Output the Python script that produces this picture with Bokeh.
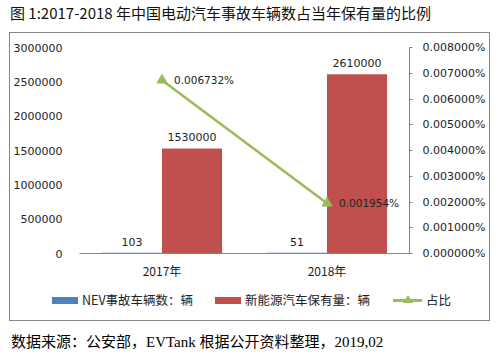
from bokeh.plotting import figure
from bokeh.layouts import column, row
from bokeh.models import (ColumnDataSource, FactorRange, Range1d, LinearAxis, SingleIntervalTicker,
                          NumeralTickFormatter, PrintfTickFormatter, LabelSet, Div, Spacer)
from bokeh.transform import dodge
from bokeh.core.properties import value
from bokeh.embed import file_html
from bokeh.resources import INLINE

years = ["2017年", "2018年"]
accidents = [103, 51]
fleet = [1530000, 2610000]
ratio_pct = [0.006732, 0.001954]
ratio_labels = ["0.006732%", "0.001954%"]
title_text = "图 1:2017-2018 年中国电动汽车事故车辆数占当年保有量的比例"
source_text = "数据来源：公安部，EVTank 根据公开资料整理，2019,02"
legend_labels = ["NEV事故车辆数：辆", "新能源汽车保有量：辆", "占比"]

BLUE = "#4F81BD"
RED = "#C0504D"
GREEN = "#9BBB59"
GRAY = "#868686"
CJK = "Noto Sans CJK SC"
BORDER = "1px solid " + GRAY

src = ColumnDataSource(dict(
    year=years, acc=accidents, fleet=fleet, ratio=ratio_pct,
    acc_lbl=[str(v) for v in accidents], fleet_lbl=[str(v) for v in fleet], ratio_lbl=ratio_labels,
))

# ---------------- main chart ----------------
p = figure(width=481, height=249, x_range=FactorRange(*years, range_padding=0),
           y_range=Range1d(0, 3000000), output_backend="svg", toolbar_location=None,
           min_border_left=68, min_border_right=82, min_border_top=14, min_border_bottom=29)
p.outline_line_color = None
p.xgrid.visible = False
p.ygrid.visible = False
p.background_fill_color = "white"
p.styles = {"border-top": BORDER, "border-left": BORDER, "border-right": BORDER, "box-sizing": "border-box"}
p.extra_y_ranges = {"r": Range1d(0, 0.008)}

p.vbar(x=dodge("year", -0.182, range=p.x_range), top="acc", width=0.364, source=src,
       fill_color=BLUE, line_color=BLUE, line_width=1.5)
p.vbar(x=dodge("year", 0.182, range=p.x_range), top="fleet", width=0.364, source=src,
       fill_color=RED, line_color=None)
p.line(x="year", y="ratio", source=src, y_range_name="r", line_color=GREEN, line_width=2.5)
p.scatter(x="year", y="ratio", source=src, y_range_name="r", marker="triangle", size=10,
          fill_color=GREEN, line_color=GREEN)

p.add_layout(LabelSet(x=dodge("year", -0.182, range=p.x_range), y="acc", text="acc_lbl", source=src,
                      text_align="center", text_baseline="bottom", y_offset=7,
                      text_font=value("DejaVu Sans"), text_font_size="11px", text_color="#222222"))
p.add_layout(LabelSet(x=dodge("year", 0.182, range=p.x_range), y="fleet", text="fleet_lbl", source=src,
                      text_align="center", text_baseline="bottom", y_offset=7,
                      text_font=value("DejaVu Sans"), text_font_size="11px", text_color="#222222"))
p.add_layout(LabelSet(x="year", y="ratio", text="ratio_lbl", source=src, y_range_name="r",
                      text_align="left", text_baseline="middle", x_offset=12,
                      text_font=value("DejaVu Sans"), text_font_size="10.5px", text_color="#222222"))

ya = p.yaxis[0]
ya.ticker = SingleIntervalTicker(interval=500000)
ya.formatter = NumeralTickFormatter(format="0")
ya.axis_line_color = None
ya.major_tick_line_color = None
ya.minor_tick_line_color = None
ya.major_label_standoff = 11
ya.major_label_text_font = "DejaVu Sans"
ya.major_label_text_font_size = "11px"
ya.major_label_text_color = "#222222"

ra = LinearAxis(y_range_name="r", ticker=SingleIntervalTicker(interval=0.001),
                formatter=PrintfTickFormatter(format="%.6f%%"))
ra.axis_line_color = GRAY
ra.major_tick_line_color = GRAY
ra.major_tick_in = 0
ra.major_tick_out = 3
ra.minor_tick_line_color = None
ra.major_label_standoff = 9
ra.major_label_text_font = "DejaVu Sans"
ra.major_label_text_font_size = "11px"
ra.major_label_text_color = "#222222"
p.add_layout(ra, "right")

xa = p.xaxis[0]
xa.axis_line_color = GRAY
xa.major_tick_line_color = None
xa.minor_tick_line_color = None
xa.major_label_standoff = 2
xa.major_label_text_font = CJK
xa.major_label_text_font_size = "12px"
xa.major_label_text_color = "#222222"

# ---------------- legend (HTML) ----------------
def swatch(left, color):
    return (f'<span style="position:absolute;left:{left}px;top:16px;width:26px;height:7px;'
            f'background:{color}"></span>')

def label(left, txt):
    return (f'<span style="position:absolute;left:{left}px;top:0px;line-height:38px;'
            f'white-space:nowrap">{txt}</span>')

legend_html = (
    '<div style="position:relative;width:479px;height:39px">'
    + swatch(42, BLUE) + label(72, legend_labels[0])
    + swatch(205, RED) + label(235, legend_labels[1])
    + f'<span style="position:absolute;left:383px;top:18px;width:29px;height:3px;background:{GREEN}"></span>'
    + f'<span style="position:absolute;left:393px;top:14px;width:0;height:0;border-left:5px solid transparent;'
      f'border-right:5px solid transparent;border-bottom:8px solid {GREEN}"></span>'
    + label(416, legend_labels[2])
    + '</div>'
)
legend_div = Div(text=legend_html, width=481, height=40, margin=(0, 0, 0, 0),
                 styles={"border-left": BORDER, "border-right": BORDER, "border-bottom": BORDER,
                         "box-sizing": "border-box", "font-family": CJK, "font-size": "12.5px",
                         "color": "#222222"})

box = column(p, legend_div, spacing=0)

title_div = Div(text=title_text, width=503, height=32, margin=(0, 0, 0, 0),
                styles={"font-family": CJK, "font-size": "15px", "color": "#111111",
                        "padding-left": "10px", "line-height": "26px", "box-sizing": "border-box"})
footer_div = Div(text=source_text, width=503, height=35, margin=(0, 0, 0, 0),
                 styles={"font-family": "'Liberation Serif', 'Noto Sans CJK SC'", "font-size": "15px",
                         "font-weight": "normal", "color": "#000000",
                         "padding-left": "11px", "line-height": "42px", "box-sizing": "border-box"})

layout = column(title_div, row(Spacer(width=9, height=289), box, spacing=0), footer_div, spacing=0)
open("out.html", "w").write(file_html(layout, INLINE))
